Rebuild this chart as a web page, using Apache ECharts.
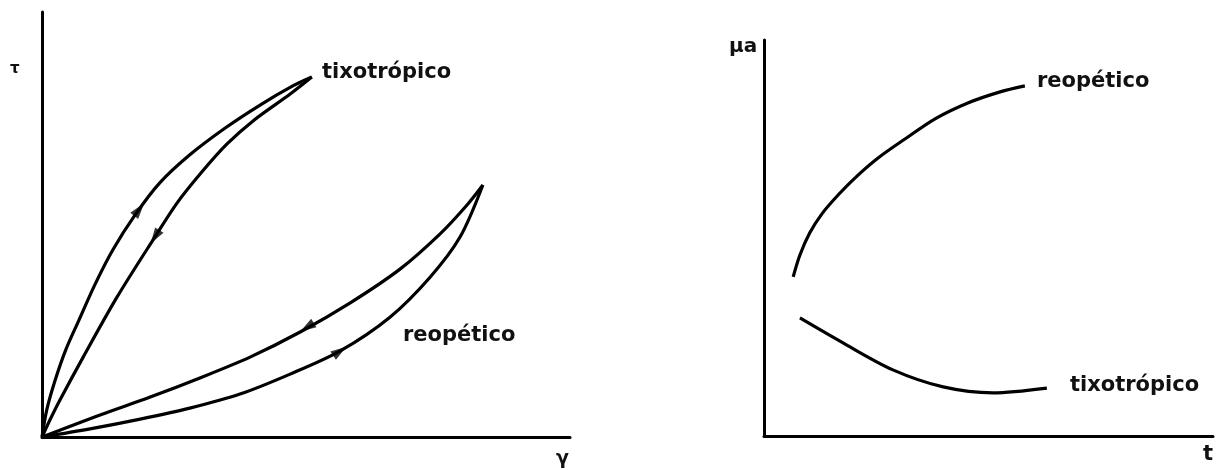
<!DOCTYPE html>
<html>
<head>
<meta charset="utf-8">
<script src="https://cdn.jsdelivr.net/npm/echarts@6/dist/echarts.min.js"></script>
<style>
    html, body {margin: 0; padding: 0; background: #fff;}
</style>
</head>
<body>

<div id="main" style="width: 1216px;height:470px;"></div>

<script type="text/javascript">
    // curva de fluxo: tau x gamma (escala 0-100)
    var tixoSubida = [[0, 0], [0.9, 6.4], [2.5, 13.4], [4.5, 20.5], [7.0, 27.5], [10.0, 35.8], [13.4, 44.0], [17.6, 52.2], [22.3, 59.8], [28.0, 66.4], [34.7, 72.7], [41.3, 78.1], [47.5, 82.6], [51.1, 84.7]];
    var tixoDescida = [[51.1, 84.7], [47.0, 80.7], [40.2, 74.6], [35.0, 68.9], [30.3, 62.4], [25.6, 55.1], [21.4, 47.1], [14.2, 32.9], [7.8, 18.8], [3.4, 8.7], [1.5, 4.0], [0, 0]];
    var reoSubida = [[0, 0], [9.1, 1.9], [18.6, 4.2], [28.0, 6.8], [37.5, 10.1], [47.0, 14.8], [56.4, 20.2], [65.9, 28.2], [73.5, 37.6], [79.2, 47.1], [83.5, 59.3]];
    var reoDescida = [[83.5, 59.3], [80.5, 54.6], [75.4, 47.8], [67.8, 39.5], [58.3, 31.5], [48.9, 24.7], [39.4, 18.8], [29.9, 13.9], [20.5, 9.4], [11.0, 5.2], [0, 0]];
    // setas: [x, y, rotacao]
    var setas = [[18.4, 53.5, -38], [21.4, 47.1, 147], [50.2, 25.8, 122], [56.4, 20.2, -56]];

    // viscosidade aparente x tempo
    var muReo = [[6.5, 40.2], [8.0, 45.7], [10.2, 51.3], [12.9, 56.1], [16.3, 60.6], [20.3, 65.2], [25.4, 70.2], [31.4, 75.0], [38.1, 80.1], [45.4, 84.1], [52.6, 86.9], [58.1, 88.4]];
    var muTixo = [[8.0, 29.8], [17.6, 23.5], [28.7, 16.7], [39.9, 12.4], [51.0, 10.9], [63.0, 12.1]];

    var myChart = echarts.init(document.getElementById('main'));

    var eixo = {
        type: 'value',
        min: 0,
        max: 100,
        axisLine: {show: true, lineStyle: {color: '#000', width: 3}},
        axisTick: {show: false},
        axisLabel: {show: false},
        splitLine: {show: false}
    };

    function linha(dados, grid) {
        return {
            type: 'line',
            xAxisIndex: grid,
            yAxisIndex: grid,
            data: dados,
            smooth: 0.3,
            symbol: 'none',
            lineStyle: {color: '#000', width: 3.2},
            silent: true
        };
    }

    var fonte = {fontFamily: 'DejaVu Sans', fontWeight: 'bold', fontSize: 21, fill: '#111'};

    var option = {
        animation: false,
        grid: [
            {left: 42, top: 12, width: 528, height: 425},
            {left: 764, top: 40, width: 449, height: 396}
        ],
        xAxis: [
            Object.assign({gridIndex: 0}, eixo),
            Object.assign({gridIndex: 1}, eixo)
        ],
        yAxis: [
            Object.assign({gridIndex: 0}, eixo),
            Object.assign({gridIndex: 1}, eixo)
        ],
        graphic: [
            {type: 'text', left: 10, top: 62, style: {text: 'τ', fontFamily: 'DejaVu Sans', fontWeight: 'bold', fontSize: 15, fill: '#111'}},
            {type: 'text', left: 556, top: 450, style: {text: 'γ', fontFamily: 'DejaVu Sans', fontWeight: 'bold', fontSize: 19, fill: '#111'}},
            {type: 'text', left: 729, top: 37, style: {text: 'μa', fontFamily: 'DejaVu Sans', fontWeight: 'bold', fontSize: 20, fill: '#111'}},
            {type: 'text', left: 1203, top: 444, style: {text: 't', fontFamily: 'DejaVu Sans', fontWeight: 'bold', fontSize: 21, fill: '#111'}},
            {type: 'text', left: 322, top: 62, style: Object.assign({text: 'tixotrópico'}, fonte)},
            {type: 'text', left: 403, top: 325, style: Object.assign({text: 'reopético'}, fonte)},
            {type: 'text', left: 1037, top: 71, style: Object.assign({text: 'reopético'}, fonte)},
            {type: 'text', left: 1070, top: 375, style: Object.assign({text: 'tixotrópico'}, fonte)}
        ],
        series: [
            linha(tixoSubida, 0),
            linha(tixoDescida, 0),
            linha(reoSubida, 0),
            linha(reoDescida, 0),
            {
                type: 'scatter',
                xAxisIndex: 0,
                yAxisIndex: 0,
                data: setas,
                symbol: 'triangle',
                symbolSize: [10, 16],
                symbolRotate: function (v) { return v[2]; },
                itemStyle: {color: '#000'},
                silent: true
            },
            linha(muReo, 1),
            linha(muTixo, 1)
        ]
    };

    myChart.setOption(option);
</script>
</body>
</html>
